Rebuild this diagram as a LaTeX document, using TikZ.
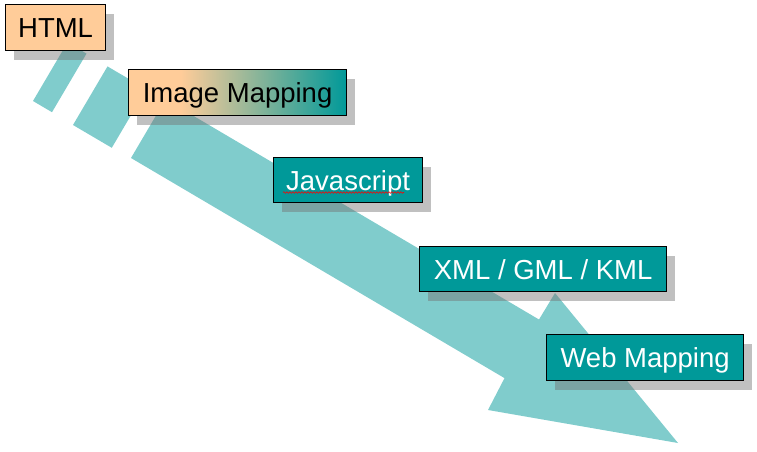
\documentclass[tikz,border=0pt]{standalone}
\usepackage{xcolor}
\usepackage{fontspec}
\setmainfont{Liberation Sans}
\usetikzlibrary{shadows,decorations.pathmorphing}

\definecolor{peach}{HTML}{FFCC99}
\definecolor{tealbox}{HTML}{009999}
\definecolor{arrowteal}{HTML}{80CCCC}
\definecolor{shadowgray}{RGB}{115,115,115}
\pgfdeclarehorizontalshading{imgmap}{100bp}{color(0bp)=(peach); color(25bp)=(peach); color(37bp)=(peach); color(75bp)=(tealbox); color(100bp)=(tealbox)}

\tikzset{
  stagebox/.style={draw=black, line width=1.2pt, anchor=north west, inner sep=0pt,
    minimum height=46pt, text height=20pt, text depth=0pt,
    font=\fontsize{27.5}{33}\selectfont,
    drop shadow={shadow xshift=8pt, shadow yshift=-9pt, fill=shadowgray, opacity=.45}},
  oldstage/.style={stagebox, fill=peach, text=black},
  newstage/.style={stagebox, fill=tealbox, text=white}
}

\begin{document}
\begin{tikzpicture}[x=1pt,y=-1pt]
\useasboundingbox (0,0) rectangle (757,451);
% the big arrow, two dashes then body with head
\fill[arrowteal] (33,101)--(67.5,42.4)--(86.5,53.6)--(52,112.2)--cycle;
\fill[arrowteal] (73,125)--(107.5,66.4)--(146.3,89.2)--(111.8,147.8)--cycle;
\fill[arrowteal] (131,158)--(165.5,99.4)--(539,319.5)--(555,293)--(678,443)--(488,410)--(504.5,378.1)--cycle;
%
\node[oldstage, minimum width=100pt] (html) at (5,4) {HTML};
\node[stagebox, shading=imgmap, text=black, minimum width=218pt] (imgmap) at (128,69) {Image Mapping};
\node[newstage, minimum width=149pt, minimum height=45pt] (js) at (273,157) {Javascript};
\node[newstage, minimum width=247pt, minimum height=45pt] (xml) at (419,246) {XML / GML / KML};
\node[newstage, minimum width=197pt] (webmap) at (546,334) {Web Mapping};
%
\draw[red, line width=0.6pt, decorate, decoration={snake, amplitude=0.8pt, segment length=3pt}] (283,192.5)--(404,192.5);
\end{tikzpicture}
\end{document}
